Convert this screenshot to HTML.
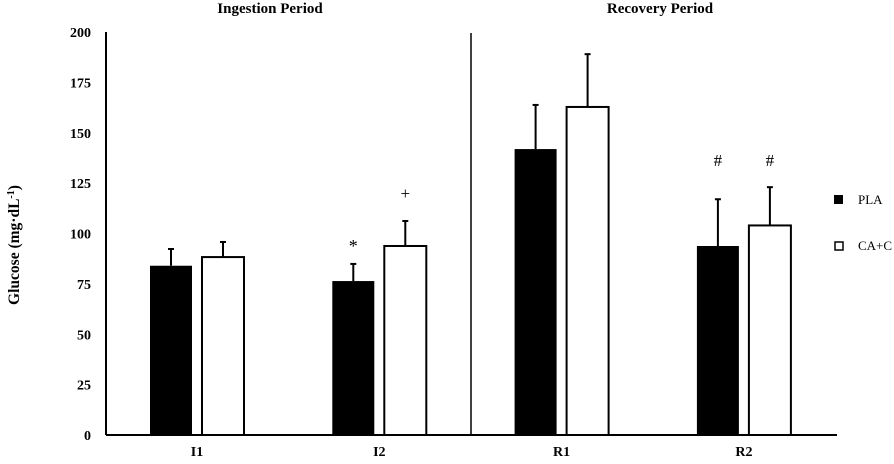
<!DOCTYPE html>
<html><head><meta charset="utf-8"><style>
body{margin:0;background:#fff}
svg text{font-family:"Liberation Serif",serif;fill:#000}
</style></head><body>
<svg id="c" width="894" height="459" xmlns="http://www.w3.org/2000/svg">
<text x="270" y="13" font-size="15" font-weight="bold" text-anchor="middle">Ingestion Period</text>
<text x="660" y="13" font-size="15" font-weight="bold" text-anchor="middle">Recovery Period</text>
<text transform="translate(19,245) rotate(-90)" font-size="15.5" font-weight="bold" text-anchor="middle">Glucose (mg·dL<tspan font-size="10" dy="-5">-1</tspan><tspan dy="5">)</tspan></text>
<g id="bars"></g>
<line x1="106" y1="32" x2="106" y2="435" stroke="#000" stroke-width="2"/>
<line x1="106" y1="435" x2="837" y2="435" stroke="#000" stroke-width="2"/>
<line x1="471" y1="33" x2="471" y2="435" stroke="#000" stroke-width="1.5"/>
<rect x="834" y="195" width="9" height="9" fill="#000"/>
<text x="858" y="204" font-size="13">PLA</text>
<rect x="835" y="242" width="8" height="8" fill="#fff" stroke="#000" stroke-width="1.5"/>
<text x="858" y="250" font-size="13">CA+C</text>
</svg>
<script>
const categories=["I1","I2","R1","R2"];
const plaValues=[84,76.4,141.9,93.8];
const plaErrors=[8.3,8.5,21.9,23.2];
const cacValues=[88.3,93.8,162.8,104];
const cacErrors=[7.5,12.4,26.2,19];
const plaMarks=["","*","","#"];
const cacMarks=["","+","","#"];
const yTicks=[0,25,50,75,100,125,150,175,200];
const NS="http://www.w3.org/2000/svg";
const svg=document.getElementById('c'),g=document.getElementById('bars');
function y(v){return 435-v*403/200;}
function xc(i){return 197+i*182.3;}
function mk(t,a,p){const e=document.createElementNS(NS,t);for(const k in a)e.setAttribute(k,a[k]);(p||g).appendChild(e);return e;}
yTicks.forEach(t=>{const e=mk('text',{x:91,y:y(t)+5,'font-size':14,'font-weight':'bold','text-anchor':'end'},svg);e.textContent=t;

});
categories.forEach((c,i)=>{
 const cx=xc(i);
 [[plaValues,plaErrors,plaMarks,-47,'#000','pla'],[cacValues,cacErrors,cacMarks,5,'#fff','cac']].forEach(([vals,errs,marks,off,fill,nm])=>{
  const v=vals[i],x=cx+off,w=42,bx=x+w/2;
  const eb=mk('line',{x1:bx,x2:bx,y1:y(v),y2:y(v+errs[i]),stroke:'#000','stroke-width':2});
  
  
  const cap=mk('line',{x1:bx-3,x2:bx+3,y1:y(v+errs[i]),y2:y(v+errs[i]),stroke:'#000','stroke-width':2});
  
  
  const r=mk('rect',{x:x,y:y(v),width:w,height:435-y(v),fill:fill,stroke:'#000','stroke-width':fill=='#fff'?2:0});
  
  
  if(marks[i]){
   const my=marks[i]=='#'?166:(marks[i]=='*'?y(v+errs[i])-12:y(v+errs[i])-22);
   const t=mk('text',{x:bx,y:my,'font-size':marks[i]=='*'?18:17,'text-anchor':'middle'});t.textContent=marks[i];
  
  }
 });
 const l=mk('text',{x:cx,y:456,'font-size':14,'font-weight':'bold','text-anchor':'middle'},svg);l.textContent=c;
 
 
});
</script>
</body></html>
